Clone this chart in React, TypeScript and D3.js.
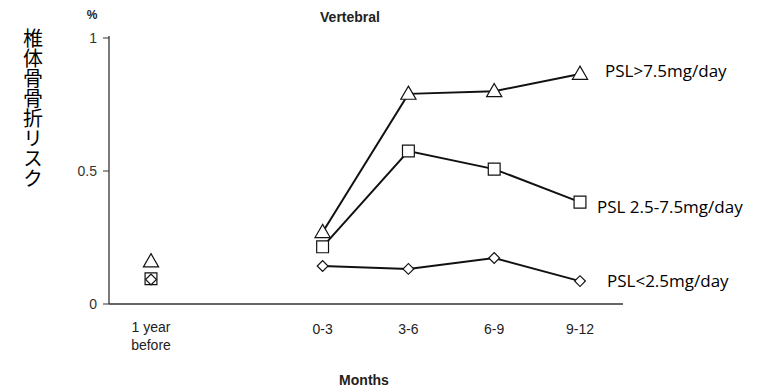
import React from "react";
import * as d3 from "d3";

// x categories (index positions; slot 1 left empty as in the original)
const periods = ["1 year before", "0-3", "3-6", "6-9", "9-12"];
const periodSlots = [0, 2, 3, 4, 5];

const high = [0.16, 0.27, 0.79, 0.8, 0.865]; // PSL>7.5 (triangle)
const mid = [0.095, 0.215, 0.575, 0.507, 0.383]; // PSL 2.5-7.5 (square)
const low = [0.092, 0.143, 0.132, 0.173, 0.086]; // PSL<2.5 (diamond)

const yTicks = [0, 0.5, 1];
const seriesNames = ["PSL>7.5mg/day", "PSL 2.5-7.5mg/day", "PSL<2.5mg/day"];
const labelOffsets = [[25, 3], [17, 11], [27, 6]];

export default function App() {
  const width = 771;
  const height = 388;

  const x = d3.scaleLinear().domain([0, 5]).range([151, 580]);
  const y = d3.scaleLinear().domain([0, 1]).range([304, 38]);

  const line = d3
    .line<number>()
    .x((_, i) => x(periodSlots[i + 1]))
    .y((d) => y(d));

  const tri = d3.symbol().type(d3.symbolTriangle).size(100)();
  const sq = d3.symbol().type(d3.symbolSquare).size(140)();
  const dia = d3.symbol().type(d3.symbolSquare).size(58)();

  const series = [
    { vals: high, path: tri, dy: 1, rot: 0 },
    { vals: mid, path: sq, dy: 0, rot: 0 },
    { vals: low, path: dia, dy: 0, rot: 45 },
  ];

  const font = "'Liberation Sans', Arial, sans-serif";

  return (
    <svg
      width={width}
      height={height}
      style={{ position: "absolute", left: 0, top: 0, background: "#fff" }}
    >
      {/* title */}
      <text x={350} y={22} textAnchor="middle" fontFamily={font} fontWeight="bold" fontSize={14} fill="#222">
        Vertebral
      </text>
      <text x={92} y={19} textAnchor="middle" fontFamily={font} fontWeight="bold" fontSize={12} fill="#222">
        %
      </text>

      {/* japanese y label, vertical */}
      <text
        x={33}
        y={28}
        fontFamily="'Noto Sans CJK JP', sans-serif"
        fontSize={20}
        fill="#000"
        style={{ writingMode: "vertical-rl" } as React.CSSProperties}
      >
        椎体骨骨折リスク
      </text>

      {/* y axis */}
      <line x1={109} x2={109} y1={y(1) - 2} y2={y(0)} stroke="#333" strokeWidth={1.3} />
      {yTicks.map((t) => (
        <g key={t}>
          <line x1={103} x2={109} y1={y(t)} y2={y(t)} stroke="#333" strokeWidth={1} />
          <text x={97} y={y(t) + 5} textAnchor="end" fontFamily={font} fontSize={14} fill="#333">
            {t}
          </text>
        </g>
      ))}

      {/* x axis */}
      <line x1={109} x2={623} y1={y(0)} y2={y(0)} stroke="#333" strokeWidth={1.3} />
      {periods.map((p, i) =>
        i === 0 ? (
          <text key={p} x={x(periodSlots[i])} textAnchor="middle" fontFamily={font} fontSize={14} fill="#222">
            <tspan x={x(periodSlots[i])} y={332}>1 year</tspan>
            <tspan x={x(periodSlots[i])} y={350}>before</tspan>
          </text>
        ) : (
          <text key={p} x={x(periodSlots[i])} y={334} textAnchor="middle" fontFamily={font} fontSize={14} fill="#222">
            {p}
          </text>
        )
      )}
      <text x={364} y={385} textAnchor="middle" fontFamily={font} fontWeight="bold" fontSize={14} fill="#222">
        Months
      </text>

      {/* lines + markers */}
      {series.map((s, si) => (
        <g key={si}>
          <path d={line(s.vals.slice(1)) ?? ""} fill="none" stroke="#111" strokeWidth={2} />
          {s.vals.map((v, i) => (
            <path
              key={i}
              d={s.path ?? ""}
              transform={`translate(${x(periodSlots[i])},${y(v) + s.dy}) rotate(${s.rot})`}
              fill="#fff"
              stroke="#111"
              strokeWidth={1.2}
            />
          ))}
          <text
            x={x(5) + labelOffsets[si][0]}
            y={y(s.vals[4]) + labelOffsets[si][1]}
            fontFamily="'Open Sans', 'Noto Sans', sans-serif"
            fontSize={17}
            fill="#000"
          >
            {seriesNames[si]}
          </text>
        </g>
      ))}
    </svg>
  );
}
